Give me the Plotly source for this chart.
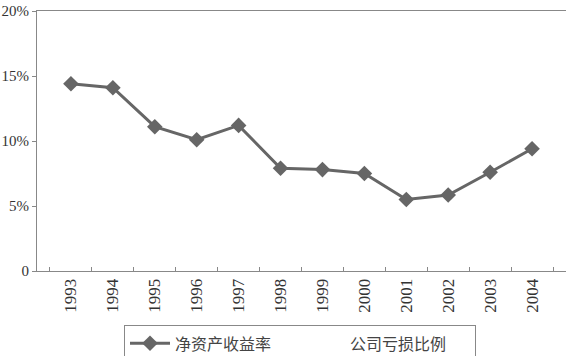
import plotly.graph_objects as go

years = ["1993", "1994", "1995", "1996", "1997", "1998", "1999", "2000", "2001", "2002", "2003", "2004"]
roe = [14.4, 14.1, 11.1, 10.1, 11.2, 7.9, 7.8, 7.5, 5.5, 5.85, 7.6, 9.4]
loss_ratio = [None] * len(years)
y_ticks = [0, 5, 10, 15, 20]
y_tick_labels = ["0", "5%", "10%", "15%", "20%"]

gray = "#666666"
fig = go.Figure()
fig.add_trace(go.Scatter(
    x=years, y=roe, mode="lines+markers", name="净资产收益率",
    line=dict(color=gray, width=3),
    marker=dict(symbol="diamond", size=12, color=gray),
))
fig.add_trace(go.Scatter(
    x=years, y=loss_ratio, mode="lines", name="公司亏损比例",
    line=dict(color="white", width=3),
))

fig.update_layout(
    width=566, height=356,
    margin=dict(l=37, r=0, t=11, b=85),
    paper_bgcolor="white", plot_bgcolor="white",
    font=dict(family="Liberation Serif, Noto Sans CJK SC", size=16, color="#333333"),
    showlegend=True,
    legend=dict(
        orientation="h", x=(124 - 37) / (566 - 37), xref="paper", xanchor="left",
        yref="container", y=0.086, yanchor="top",
        bordercolor="#888888", borderwidth=1,
        font=dict(family="Liberation Serif, Noto Sans CJK SC", size=16, color="#444444"),
        itemwidth=40, entrywidth=120,
    ),
    xaxis=dict(
        type="category", tickangle=-90, tickson="boundaries",
        ticks="inside", ticklen=4, tickcolor="#888888",
        showline=True, linecolor="#888888", linewidth=1, mirror=True,
        showgrid=False, tickfont=dict(size=17), automargin=False,
    ),
    yaxis=dict(
        range=[0, 20], tickvals=y_ticks, ticktext=y_tick_labels,
        ticks="outside", ticklen=4, tickcolor="#888888",
        showline=True, linecolor="#888888", linewidth=1, mirror=True,
        showgrid=False, zeroline=False, tickfont=dict(size=15), automargin=False,
    ),
)

fig.write_html("out.html", config={"displayModeBar": False},
               post_script="document.body.style.margin='0';document.body.style.overflow='hidden';")
